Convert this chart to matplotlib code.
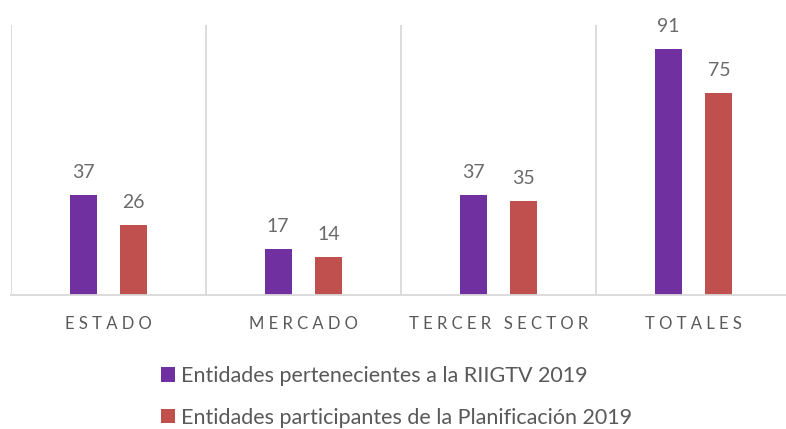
import matplotlib
matplotlib.use("Agg")
from matplotlib import pyplot as plt
import numpy as np

# data
categorias = ["E S T A D O", "M E R C A D O", "T E R C E R   S E C T O R", "T O T A L E S"]
riigtv = [37, 17, 37, 91]
planificacion = [26, 14, 35, 75]
series_names = ["Entidades pertenecientes a la RIIGTV 2019",
                "Entidades participantes de la Planificación 2019"]

plt.rcParams['font.family'] = ['Lato', 'DejaVu Sans']

fig = plt.figure(figsize=(7.86, 4.29), dpi=100)
ax = fig.add_axes([11/786, 1 - 295/429, 775/786, 270/429])

x = np.arange(len(categorias))
w = 0.138
off = 0.13
b1 = ax.bar(x - off, riigtv, w, color='#7030A0', label=series_names[0])
b2 = ax.bar(x + off, planificacion, w, color='#C0504D', label=series_names[1])

for bars in (b1, b2):
    for r in bars:
        ax.annotate(str(int(r.get_height())), (r.get_x() + r.get_width()/2, r.get_height()),
                    xytext=(0, 10), textcoords='offset points', ha='center', va='bottom',
                    fontsize=14, color='#6b6b6b')

ax.set_ylim(0, 100)
ax.set_xlim(-0.5, 3.5 - 5/195)
for xv in [-0.5, 0.5, 1.5, 2.5]:
    ax.axvline(xv, color='#d9d9d9', lw=1.3, zorder=0)

for s in ['top', 'right', 'left']:
    ax.spines[s].set_visible(False)
ax.spines['bottom'].set_color('#d9d9d9')
ax.spines['bottom'].set_linewidth(1.3)
ax.set_yticks([])
ax.set_xticks(x)
ax.set_xticklabels(categorias, fontsize=12, color='#595959')
ax.tick_params(axis='x', length=0, pad=15)

leg = fig.legend(handles=[b1, b2], loc='upper left', bbox_to_anchor=(161/786, 1 - 366/429),
                 ncol=1, frameon=False, fontsize=15.5, labelcolor='#595959',
                 handlelength=0.65, handleheight=0.65, handletextpad=0.3, labelspacing=1.0,
                 borderpad=0, borderaxespad=0)

fig.savefig('out.png', dpi=100)
